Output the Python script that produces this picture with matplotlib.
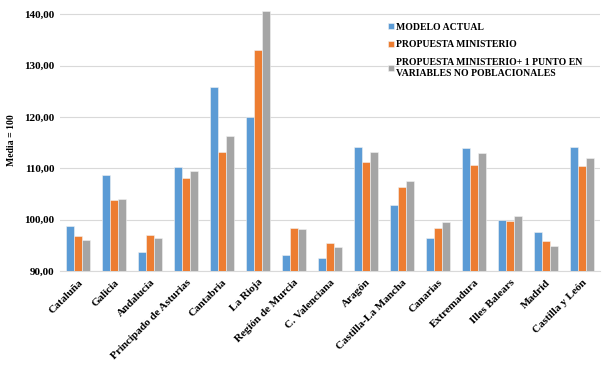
import numpy as np
import matplotlib.pyplot as plt

plt.rcParams['font.family'] = ['Liberation Serif', 'DejaVu Serif']

regiones = ['Cataluña', 'Galicia', 'Andalucía', 'Principado de Asturias', 'Cantabria',
            'La Rioja', 'Región de Murcia', 'C. Valenciana', 'Aragón', 'Castilla-La Mancha',
            'Canarias', 'Extremadura', 'Illes Balears', 'Madrid', 'Castilla y León']
modelo_actual = [98.8, 108.6, 93.7, 110.2, 125.8, 119.9, 93.1, 92.5, 114.1, 102.8,
                 96.4, 113.9, 100.0, 97.5, 114.1]
propuesta = [96.8, 103.8, 97.0, 108.0, 113.1, 133.1, 98.4, 95.5, 111.2, 106.3,
             98.4, 110.7, 99.7, 95.8, 110.4]
propuesta_mas = [96.0, 104.0, 96.4, 109.4, 116.3, 140.7, 98.1, 94.7, 113.1, 107.6,
                 99.6, 112.9, 100.7, 94.8, 112.0]
series_labels = ['MODELO ACTUAL', 'PROPUESTA MINISTERIO',
                 'PROPUESTA MINISTERIO+ 1 PUNTO EN\nVARIABLES NO POBLACIONALES']
yticks = [90, 100, 110, 120, 130, 140]

colores = ['#5B9BD5', '#ED7D31', '#A5A5A5']

fig = plt.figure(figsize=(6.08, 3.66), dpi=100)
ax = fig.add_axes([0.0987, 0.26, 0.888, 0.715])

x = np.arange(len(regiones))
w = 0.22
for i, (vals, lab) in enumerate(zip([modelo_actual, propuesta, propuesta_mas], series_labels)):
    ax.bar(x + (i - 1) * w, np.array(vals) - 90, bottom=90, width=w,
           color=colores[i], edgecolor='#F2F2F2', linewidth=0.4, label=lab, zorder=3)

ax.set_xlim(-0.5, len(regiones) - 0.5)
ax.set_ylim(90, 141)
ax.set_yticks(yticks)
ax.set_yticklabels(['%d,00' % v for v in yticks], fontsize=8, fontweight='bold')
ax.grid(axis='y', color='#D9D9D9', linewidth=0.8, zorder=0)
for s in ['top', 'right', 'left']:
    ax.spines[s].set_visible(False)
ax.spines['bottom'].set_color('#D9D9D9')
ax.tick_params(axis='both', length=0)
ax.tick_params(axis='y', pad=4)

ax.set_xticks(x)
ax.set_xticklabels(regiones, rotation=45, ha='right', va='top', rotation_mode='anchor',
                   fontsize=8, fontweight='bold')
ax.tick_params(axis='x', pad=5)

ax.set_ylabel('Media = 100', fontsize=7, fontweight='bold', labelpad=6)

ax.legend(loc='upper left', bbox_to_anchor=(0.624, 0.962), bbox_transform=fig.transFigure,
          frameon=False, handlelength=0.6, handleheight=0.6, handletextpad=0.2,
          labelspacing=0.9, prop={'size': 7, 'weight': 'bold'})

fig.savefig('out.png', dpi=100)
